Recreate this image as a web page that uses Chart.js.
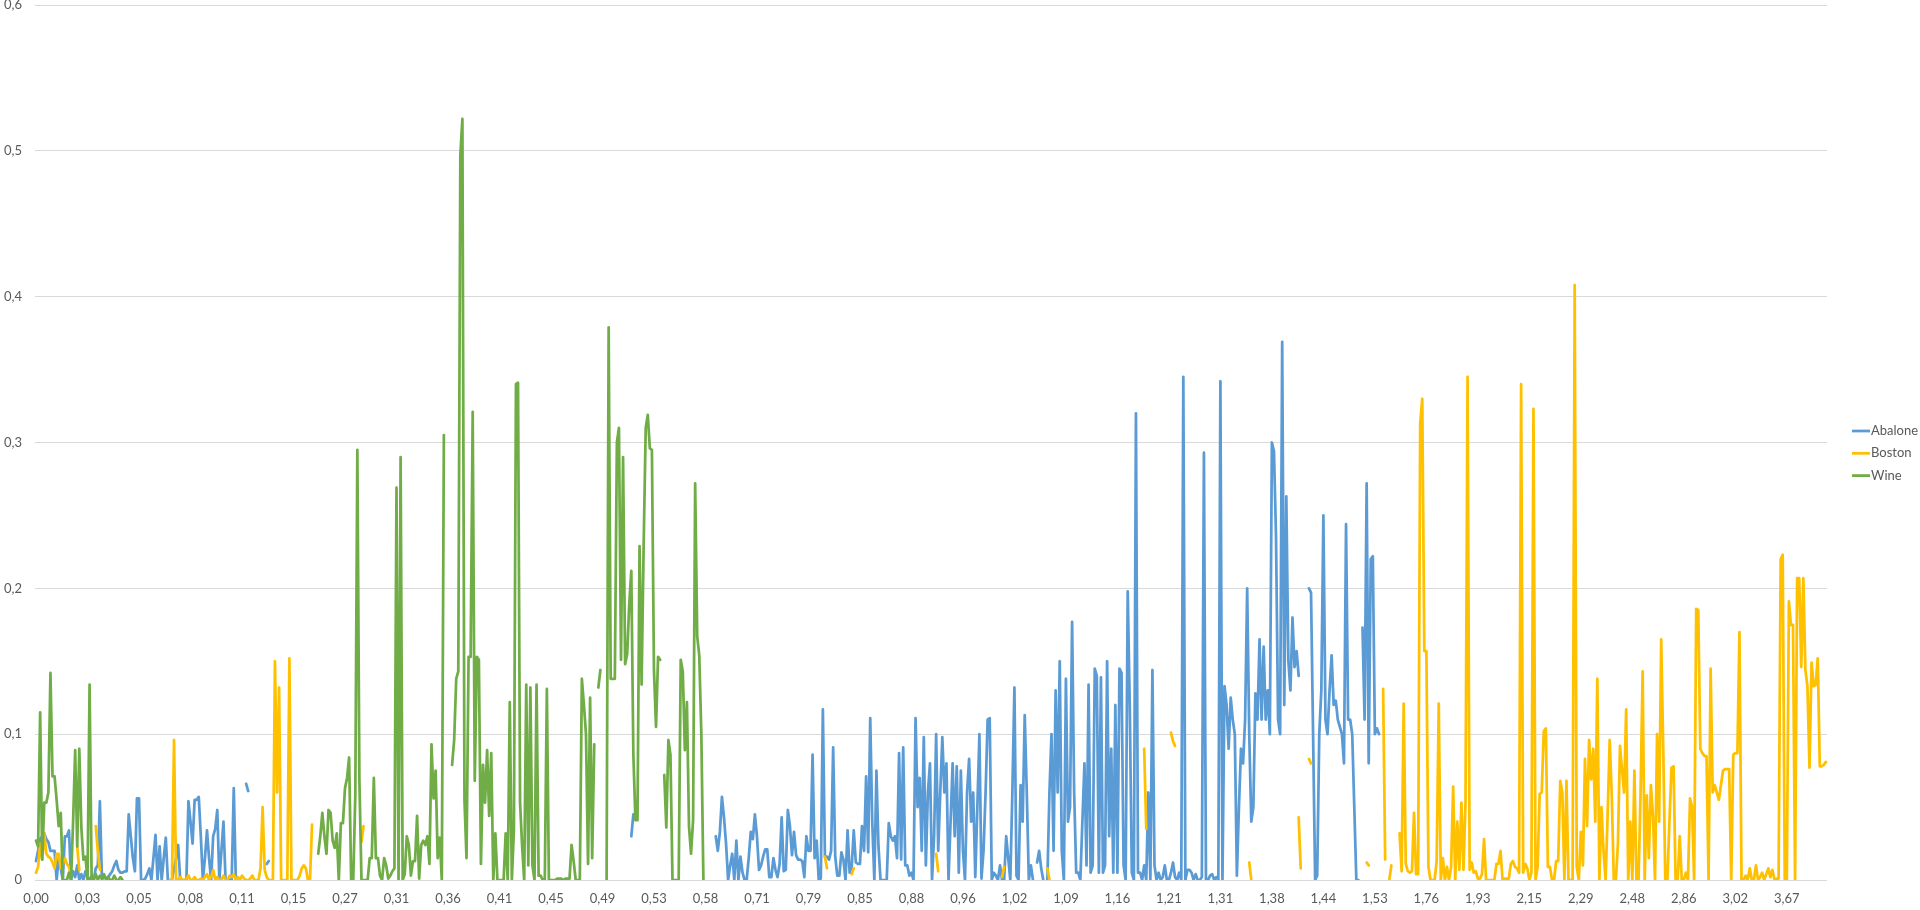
<!DOCTYPE html>
<html>
<head>
<meta charset="utf-8">
<title>Abalone / Boston / Wine</title>
<script src="https://cdn.jsdelivr.net/npm/chart.js@4.4.1/dist/chart.umd.min.js"></script>
<style>
  html, body { margin: 0; padding: 0; background: #ffffff; }
  #chart { display: block; }
</style>
</head>
<body>
<canvas id="chart" width="1920" height="910"></canvas>
<script>
// Category axis: one label shown every labelStep categories
const tickLabels = ['0,00', '0,03', '0,05', '0,08', '0,11', '0,15', '0,27', '0,31', '0,36', '0,41',
  '0,45', '0,49', '0,53', '0,58', '0,71', '0,79', '0,85', '0,88', '0,96', '1,02',
  '1,09', '1,16', '1,21', '1,31', '1,38', '1,44', '1,53', '1,76', '1,93', '2,15',
  '2,29', '2,48', '2,86', '3,02', '3,67'];
const labelStep = 25;
const pointCount = 870;

// Series values as runs: [first category index, values]. Cells outside runs are empty (gaps).
const abaloneRuns = [
  [0, [0.013, 0.02, 0.028, 0.03, 0.032, 0.028, 0.026, 0.02, 0.02, 0.02,
    0, 0.015, 0.008, 0, 0.03, 0.03, 0.034, 0, 0.006, 0.002,
    0.01, 0, 0.004, 0, 0.006, 0.002, 0, 0.003, 0, 0.008,
    0.01, 0.054, 0, 0.003, 0.001, 0.002, 0.004, 0.006, 0.01, 0.013,
    0.007, 0.005, 0.005, 0.006, 0.006, 0.045, 0.03, 0.015, 0.006, 0.056,
    0.056, 0, 0, 0.001, 0.004, 0.008, 0, 0.015, 0.031, 0,
    0.023, 0, 0.015, 0.029, 0, 0, 0, 0.008, 0.015, 0.024,
    0, 0, 0, 0, 0.054, 0.04, 0.025, 0.055, 0.055, 0.057,
    0.03, 0, 0.015, 0.034, 0.015, 0, 0.03, 0.035, 0.048, 0,
    0.02, 0.04, 0, 0, 0, 0, 0.063, 0]],
  [102, [0.066, 0.061]],
  [112, [0.011, 0.013]],
  [289, [0.03, 0.045]],
  [330, [0.03, 0.02, 0.033, 0.057, 0.043, 0.025, 0, 0.01, 0.018, 0,
    0.027, 0, 0.016, 0.005, 0, 0, 0.015, 0.033, 0.028, 0.045,
    0.03, 0.007, 0.01, 0.016, 0.021, 0.021, 0.002, 0.002, 0.015, 0.007,
    0.002, 0.011, 0.043, 0.006, 0.007, 0.048, 0.037, 0.017, 0.033, 0.017,
    0.014, 0.014, 0.013, 0.002, 0.03, 0.02, 0.02, 0.086, 0.015, 0.027,
    0, 0.001, 0.117, 0.016, 0.016, 0.014, 0.02, 0.091, 0.016, 0.003,
    0.003, 0.019, 0.014, 0, 0.034, 0.005, 0.009, 0.034, 0.012, 0.011,
    0.011, 0.037, 0.02, 0.071, 0.019, 0.111, 0.039, 0, 0.075, 0.023,
    0, 0, 0, 0, 0.039, 0.03, 0.027, 0.03, 0.015, 0.087,
    0.014, 0.091, 0.01, 0.01, 0.003, 0.005, 0, 0.111, 0.05, 0.07,
    0.02, 0.098, 0.01, 0.06, 0.08, 0, 0.03, 0.1, 0.02, 0.06,
    0.098, 0.06, 0.08, 0, 0.04, 0.08, 0.03, 0.078, 0.005, 0.075,
    0.02, 0, 0.06, 0.083, 0.04, 0.06, 0.002, 0.05, 0.1, 0.001,
    0.02, 0.06, 0.11, 0.111, 0, 0.005, 0.003, 0, 0.01, 0,
    0, 0.03, 0.015, 0, 0.06, 0.132, 0.003, 0, 0.065, 0.04,
    0.113, 0.06, 0, 0.01, 0]],
  [486, [0.012, 0.02, 0.008, 0]],
  [491, [0, 0.06, 0.1, 0.02, 0.13, 0.06, 0.15, 0.02, 0, 0.138,
    0.04, 0.05, 0.177, 0.06, 0.005, 0.005, 0, 0.04, 0.08, 0.01,
    0.134, 0.005, 0.01, 0.145, 0.14, 0.005, 0.139, 0.005, 0.01, 0.15,
    0.03, 0.09, 0.005, 0.12, 0.005, 0.145, 0.142, 0.01, 0, 0.198,
    0.12, 0.005, 0, 0.32, 0.005, 0.005, 0, 0.01, 0, 0.06,
    0, 0.144, 0.01, 0, 0.005, 0, 0.002, 0.01, 0, 0,
    0.005, 0.012, 0.002, 0, 0.005, 0, 0.345, 0, 0.007, 0.007,
    0.005, 0, 0.004, 0, 0, 0.002, 0.293, 0, 0, 0.003,
    0.004, 0, 0.002, 0, 0.342, 0, 0.133, 0.12, 0.09, 0.125,
    0.11, 0.1, 0.003, 0.05, 0.09, 0.08, 0.11, 0.2, 0.1, 0.04,
    0.05, 0.128, 0.11, 0.165, 0.11, 0.16, 0.11, 0.13, 0.1, 0.3,
    0.294, 0.236, 0.11, 0.1, 0.369, 0.12, 0.263, 0.15, 0.13, 0.18,
    0.146, 0.157, 0.14]],
  [618, [0.2, 0.197, 0.1, 0, 0.003]],
  [623, [0.1, 0.13, 0.25, 0.11, 0.1, 0.13, 0.154, 0.12, 0.123, 0.11,
    0.105, 0.1, 0.08, 0.244, 0.11, 0.11, 0.1, 0.05, 0, 0]],
  [644, [0.173, 0.11, 0.272, 0.08, 0.22, 0.222, 0.1, 0.104, 0.1]]
];

const bostonRuns = [
  [0, [0.005, 0.009, 0.025, 0.014, 0.032, 0.018, 0.016, 0.015, 0.012, 0.008,
    0.018, 0.018, 0.008, 0.011, 0.015, 0.011, 0.009, 0.003]],
  [20, [0.023, 0.007]],
  [29, [0.037, 0.02, 0.007]],
  [65, [0, 0, 0.096, 0, 0, 0.002, 0, 0, 0.001, 0.003,
    0, 0, 0.002, 0, 0, 0.001, 0, 0.002, 0.004, 0,
    0.002, 0.007, 0, 0.002, 0, 0, 0.003, 0, 0, 0.003,
    0.002, 0.004, 0, 0.002, 0, 0.003, 0.001, 0, 0, 0.001,
    0.003, 0, 0, 0, 0.008, 0.05, 0.007, 0.002, 0, 0,
    0, 0.15, 0.06, 0.132, 0, 0, 0, 0, 0.152, 0,
    0, 0, 0, 0.003, 0.008, 0.01, 0.008, 0, 0, 0.038]],
  [158, [0.026, 0.037]],
  [383, [0.016, 0.008]],
  [396, [0.004, 0.008]],
  [437, [0.018, 0.006]],
  [469, [0.002, 0.009]],
  [491, [0.008, 0]],
  [538, [0.09, 0.035]],
  [551, [0.101, 0.095, 0.092]],
  [589, [0.012, 0]],
  [613, [0.043, 0.008]],
  [618, [0.083, 0.08]],
  [646, [0.012, 0.01]],
  [654, [0.131, 0.014]],
  [657, [0, 0.01]],
  [662, [0.032, 0.006, 0.121, 0.011, 0.006, 0.005, 0.006, 0.046, 0.004, 0.004,
    0.313, 0.33, 0.157, 0.157, 0.009, 0, 0, 0, 0.013, 0.121,
    0, 0.015, 0, 0.009, 0, 0.009, 0.064, 0, 0.04, 0.007,
    0.053, 0.007, 0.053, 0.345, 0.007, 0.012, 0.005, 0.006, 0.001, 0.001,
    0.004, 0.028, 0, 0, 0, 0, 0, 0.011, 0.011, 0.02,
    0, 0.001, 0.001, 0.001, 0.011, 0.013, 0.009, 0.008, 0.005, 0.34,
    0.005, 0.011, 0.008, 0, 0.005, 0.323, 0, 0.009, 0.059, 0.06,
    0.102, 0.104, 0.009, 0.009, 0, 0, 0.013, 0.013, 0.068, 0.06,
    0, 0.068, 0, 0, 0, 0.408, 0.009,
    0, 0.033, 0.01, 0.083, 0.037, 0.096, 0.069, 0.09, 0.04, 0.138,
    0, 0.05, 0.02, 0, 0.045, 0.096, 0.058, 0, 0, 0.025,
    0.092, 0.075, 0.06, 0.117, 0, 0.04, 0, 0.075, 0, 0,
    0.06, 0.143, 0, 0.058, 0.015, 0.065, 0.044, 0, 0.1, 0.04,
    0.165, 0.09, 0, 0, 0.04, 0.077, 0.078, 0, 0, 0.03,
    0, 0, 0.005, 0, 0.056, 0.05, 0, 0.186, 0.185, 0.09,
    0.087, 0.085, 0.085, 0, 0.145, 0.06, 0.065, 0.06, 0.055, 0.065,
    0.075, 0.076, 0.076, 0.076, 0, 0.086, 0.087, 0.087, 0.17, 0,
    0, 0.003, 0, 0.008, 0, 0, 0.01, 0, 0.002, 0.005,
    0, 0.004, 0.008, 0.002, 0.007, 0, 0.001, 0.001, 0.22, 0.223,
    0, 0, 0.191, 0.175, 0.175, 0, 0.207, 0.207, 0.146, 0.207,
    0.144, 0.133, 0.077, 0.149, 0.133, 0.134, 0.152, 0.078, 0.078, 0.079, 0.081]]
];

const wineRuns = [
  [0, [0.027, 0.023, 0.115, 0.014, 0.053, 0.053, 0.06, 0.142, 0.071, 0.071,
    0.055, 0.037, 0.046, 0, 0, 0, 0.005, 0, 0.04, 0.089,
    0.023, 0.09, 0.036, 0.014, 0.016, 0, 0.134, 0, 0, 0.004,
    0, 0.003, 0.001, 0.004, 0, 0.002, 0, 0, 0.003, 0,
    0, 0.002, 0]],
  [137, [0.018, 0.03, 0.046, 0.03, 0.018, 0.048, 0.046, 0.027, 0.022, 0.032,
    0, 0.039, 0.039, 0.063, 0.07, 0.084, 0, 0, 0.058, 0.295,
    0.068, 0, 0, 0, 0, 0.015, 0.015, 0.07, 0.015, 0.015,
    0.003, 0, 0.015, 0.01, 0.001, 0.003, 0.006, 0.008, 0.269, 0,
    0.29, 0, 0.004, 0.03, 0.024, 0.003, 0.013, 0.013, 0.044, 0.001,
    0.024, 0.027, 0.024, 0.03, 0.011, 0.093, 0.056, 0.075, 0.015, 0.029,
    0, 0.305]],
  [202, [0.079, 0.096, 0.138, 0.143, 0.497, 0.522, 0.055, 0.015, 0.153, 0.153,
    0.321, 0.068, 0.153, 0.151, 0.011, 0.079, 0.053, 0.089, 0.044, 0.087,
    0, 0.032, 0, 0, 0, 0, 0.032, 0, 0.122, 0,
    0.034, 0.34, 0.341, 0.053, 0.023, 0, 0.134, 0.01, 0.132, 0.01,
    0, 0.134, 0.003, 0.003, 0, 0, 0.131, 0, 0, 0,
    0, 0.001, 0.001, 0.001, 0, 0.001, 0.001, 0.001, 0.024, 0.013,
    0, 0, 0, 0.138, 0.12, 0.1, 0.011, 0.125, 0.015, 0.093]],
  [273, [0.132, 0.144]],
  [277, [0, 0.379, 0.138, 0.138, 0.138, 0.3, 0.31, 0.151, 0.29, 0.148,
    0.155, 0.189, 0.212, 0.086, 0.041, 0.041, 0.229, 0.134, 0.23, 0.31,
    0.319, 0.296, 0.295, 0.144, 0.105, 0.153, 0.151]],
  [305, [0.072, 0.036, 0.096, 0.086, 0, 0, 0, 0, 0.151, 0.143,
    0.089, 0.122, 0.037, 0.018, 0.041, 0.272, 0.167, 0.154, 0.1, 0]]
];

function fromRuns(runs) {
  const out = new Array(pointCount).fill(null);
  runs.forEach(function (run) {
    run[1].forEach(function (v, k) {
      if (run[0] + k < pointCount) out[run[0] + k] = v;
    });
  });
  return out;
}

const categories = Array.from({ length: pointCount }, function (_, i) { return i; });

const textColor = '#595959';
const fontFamily = 'Lato, "Open Sans", sans-serif';

// Legend drawn at the right of the plot, Excel style (short line + name)
const sideLegend = {
  id: 'sideLegend',
  afterDraw(chart) {
    const ctx = chart.ctx;
    ctx.save();
    ctx.font = '13px ' + fontFamily;
    ctx.textBaseline = 'middle';
    ctx.fillStyle = textColor;
    chart.data.datasets.forEach(function (ds, idx) {
      const y = 431 + idx * 22.3;
      ctx.strokeStyle = ds.borderColor;
      ctx.lineWidth = 2.75;
      ctx.beginPath();
      ctx.moveTo(1852, y);
      ctx.lineTo(1870, y);
      ctx.stroke();
      ctx.fillText(ds.label, 1871, y);
    });
    ctx.restore();
  }
};

// fixed axis boxes so the plot area sits where Excel put it
function fixY(scale) {
  scale.width = 35;
  scale.paddingTop = 0;
  scale.paddingBottom = 0;
}
function fixX(scale) {
  scale.height = 30;
  scale.paddingLeft = 0;
  scale.paddingRight = 0;
}

const ctx = document.getElementById('chart').getContext('2d');
const lineStyle = { borderWidth: 2.75, pointRadius: 0, tension: 0, spanGaps: false,
  borderJoinStyle: 'round', borderCapStyle: 'round', fill: false };

new Chart(ctx, {
  type: 'line',
  data: {
    labels: categories,
    datasets: [
      Object.assign({ label: 'Abalone', data: fromRuns(abaloneRuns), borderColor: '#5B9BD5', backgroundColor: '#5B9BD5', order: 3 }, lineStyle),
      Object.assign({ label: 'Boston', data: fromRuns(bostonRuns), borderColor: '#FFC000', backgroundColor: '#FFC000', order: 2 }, lineStyle),
      Object.assign({ label: 'Wine', data: fromRuns(wineRuns), borderColor: '#70AD47', backgroundColor: '#70AD47', order: 1 }, lineStyle)
    ]
  },
  options: {
    responsive: false,
    animation: false,
    devicePixelRatio: 1,
    layout: { padding: { left: 0, right: 93, top: 5, bottom: 0 } },
    plugins: {
      legend: { display: false },
      tooltip: { enabled: false }
    },
    scales: {
      x: {
        offset: true,
        afterFit: fixX,
        grid: { display: false, drawTicks: false },
        border: { display: false },
        ticks: {
          autoSkip: false,
          maxRotation: 0,
          minRotation: 0,
          padding: 11,
          color: textColor,
          font: { family: fontFamily, size: 13 },
          callback: function (value, index) {
            return index % labelStep === 0 ? tickLabels[index / labelStep] : '';
          }
        }
      },
      y: {
        min: 0,
        max: 0.6,
        afterFit: fixY,
        grid: { color: '#d9d9d9', lineWidth: 1, drawTicks: false },
        border: { display: false },
        ticks: {
          stepSize: 0.1,
          padding: 13,
          color: textColor,
          font: { family: fontFamily, size: 13 },
          callback: function (v) {
            return v === 0 ? '0' : v.toFixed(1).replace('.', ',');
          }
        }
      }
    }
  },
  plugins: [sideLegend]
});
</script>
</body>
</html>
